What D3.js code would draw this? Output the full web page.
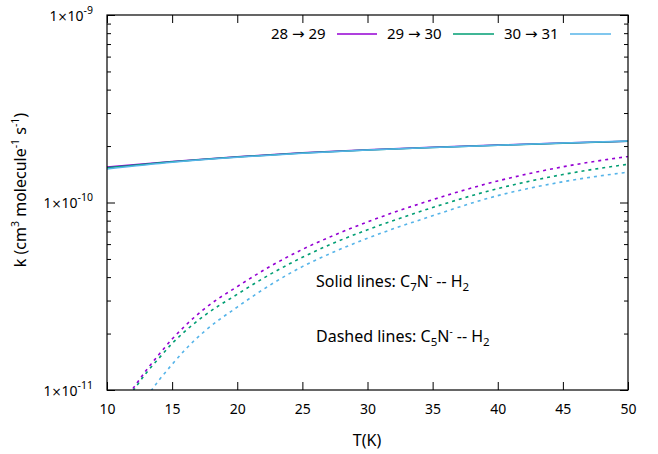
<!DOCTYPE html>
<html><head><meta charset="utf-8">
<script src="https://cdn.jsdelivr.net/npm/d3@7"></script>
<style>body{margin:0;background:#fff}svg{display:block}text{font-family:"Noto Sans",sans-serif;fill:#000}</style>
</head><body><svg id="c" width="658" height="454"></svg>
<script>
// ---- data ----
const xTicks = [10, 15, 20, 25, 30, 35, 40, 45, 50];
const yMajor = [1e-11, 1e-10, 1e-9];
const yExp = ["-11", "-10", "-9"];
const seriesFrom = ["28", "29", "30"];
const seriesTo = ["29", "30", "31"];
const seriesColors = ["#9400d3", "#009e73", "#56b4e9"];

// solid lines: C7N- -- H2
const solidT = [10, 15, 20, 25, 30, 35, 40, 45, 50];
const solid_28_29 = [1.545e-10, 1.655e-10, 1.755e-10, 1.84e-10, 1.91e-10, 1.97e-10, 2.025e-10, 2.075e-10, 2.12e-10];
const solid_29_30 = [1.53e-10, 1.65e-10, 1.75e-10, 1.835e-10, 1.905e-10, 1.965e-10, 2.02e-10, 2.072e-10, 2.12e-10];
const solid_30_31 = [1.51e-10, 1.64e-10, 1.745e-10, 1.83e-10, 1.905e-10, 1.965e-10, 2.02e-10, 2.075e-10, 2.125e-10];

// dashed lines: C5N- -- H2
const dashT = [11, 12, 13, 14, 15, 16, 17.5, 20, 22.5, 25, 27.5, 30, 35, 40, 45, 50];
const dash_28_29 = [0.83e-11, 1.02e-11, 1.27e-11, 1.55e-11, 1.87e-11, 2.2e-11, 2.72e-11, 3.56e-11, 4.55e-11, 5.62e-11, 6.72e-11, 7.88e-11, 10.35e-11, 13.03e-11, 15.5e-11, 17.6e-11];
const dash_29_30 = [0.81e-11, 0.99e-11, 1.23e-11, 1.48e-11, 1.77e-11, 2.06e-11, 2.5e-11, 3.24e-11, 4.13e-11, 5.1e-11, 6.12e-11, 7.15e-11, 9.4e-11, 11.86e-11, 14.1e-11, 16.0e-11];
const dash_30_31 = [0.62e-11, 0.74e-11, 0.91e-11, 1.13e-11, 1.37e-11, 1.64e-11, 2.06e-11, 2.77e-11, 3.62e-11, 4.55e-11, 5.48e-11, 6.45e-11, 8.5e-11, 10.88e-11, 12.9e-11, 14.52e-11];

const solidSeries = [solid_28_29, solid_29_30, solid_30_31];
const dashSeries = [dash_28_29, dash_29_30, dash_30_31];

// ---- layout ----
const L = 107, R = 628, T = 15, B = 390;
const svg = d3.select("#c");
const x = d3.scaleLinear().domain([10, 50]).range([L, R]);
const y = d3.scaleLog().domain([1e-11, 1e-9]).range([B, T]);

svg.append("defs").append("clipPath").attr("id", "clip")
  .append("rect").attr("x", L).attr("y", T).attr("width", R - L).attr("height", B - T);

const yMinor = [];
[1e-11, 1e-10].forEach(d => { for (let k = 2; k <= 9; k++) yMinor.push(d * k); });

function styleAxis(g) {
  g.select(".domain").remove();
  g.selectAll(".tick line").attr("stroke", "#000").attr("stroke-width", 1);
}

svg.append("g").attr("transform", `translate(0,${B})`)
  .call(d3.axisBottom(x).tickValues(xTicks).tickSizeInner(-8).tickSizeOuter(0).tickPadding(14).tickFormat(d3.format("d")))
  .call(styleAxis)
  .call(g => g.selectAll(".tick text").attr("font-size", 14).attr("font-family", "Noto Sans"));
svg.append("g").attr("transform", `translate(0,${T})`)
  .call(d3.axisTop(x).tickValues(xTicks).tickSizeInner(-8).tickSizeOuter(0).tickFormat(""))
  .call(styleAxis);
const leftMaj = svg.append("g").attr("transform", `translate(${L},0)`)
  .call(d3.axisLeft(y).tickValues(yMajor).tickSizeInner(-8).tickSizeOuter(0).tickFormat(""))
  .call(styleAxis);
leftMaj.selectAll(".tick").each(function(d, i) {
  const t = d3.select(this).append("text").attr("x", -14).attr("y", 5)
    .attr("text-anchor", "end").attr("font-size", 14).attr("font-family", "Noto Sans");
  t.append("tspan").text("1");
  t.append("tspan").attr("font-family", "DejaVu Sans").attr("font-size", 12).text("\u00d7");
  t.append("tspan").text("10");
  t.append("tspan").attr("dy", -7).attr("font-size", 10.5).text(yExp[i]);
});
svg.append("g").attr("transform", `translate(${L},0)`)
  .call(d3.axisLeft(y).tickValues(yMinor).tickSizeInner(-4).tickSizeOuter(0).tickFormat(""))
  .call(styleAxis);
svg.append("g").attr("transform", `translate(${R},0)`)
  .call(d3.axisRight(y).tickValues(yMajor).tickSizeInner(-8).tickSizeOuter(0).tickFormat(""))
  .call(styleAxis);
svg.append("g").attr("transform", `translate(${R},0)`)
  .call(d3.axisRight(y).tickValues(yMinor).tickSizeInner(-4).tickSizeOuter(0).tickFormat(""))
  .call(styleAxis);

const plot = svg.append("g").attr("clip-path", "url(#clip)");
const lineGen = (ts) => d3.line().x((d, i) => x(ts[i])).y(d => y(d)).curve(d3.curveMonotoneX);
dashSeries.forEach((s, i) => {
  plot.append("path").datum(s).attr("d", lineGen(dashT)).attr("fill", "none")
    .attr("stroke", seriesColors[i]).attr("stroke-width", 1.6).attr("stroke-dasharray", "3,4");
});
solidSeries.forEach((s, i) => {
  plot.append("path").datum(s).attr("d", lineGen(solidT)).attr("fill", "none")
    .attr("stroke", seriesColors[i]).attr("stroke-width", 1.5);
});

svg.append("rect").attr("x", L).attr("y", T).attr("width", R - L).attr("height", B - T)
  .attr("fill", "none").attr("stroke", "#000").attr("stroke-width", 1.2);

// legend
const legTextStart = [271, 387, 504];
const legLine = [[337, 377], [453, 494], [570, 611]];
seriesFrom.forEach((n, i) => {
  const t = svg.append("text").attr("x", legTextStart[i]).attr("y", 39).attr("font-size", 15);
  t.append("tspan").text(n + " ");
  t.append("tspan").attr("font-family", "DejaVu Sans").attr("font-size", 15).text("\u2192");
  t.append("tspan").text(" " + seriesTo[i]);
  svg.append("line").attr("x1", legLine[i][0]).attr("x2", legLine[i][1]).attr("y1", 34).attr("y2", 34)
    .attr("stroke", seriesColors[i]).attr("stroke-width", 1.5);
});

function chem(yPos, label, sub) {
  const t = svg.append("text").attr("x", 316).attr("y", yPos).attr("font-size", 16);
  t.append("tspan").text(label + "C");
  t.append("tspan").attr("dy", 4).attr("font-size", 11.5).text(sub);
  t.append("tspan").attr("dy", -4).text("N");
  t.append("tspan").attr("dy", -7).attr("font-size", 10).text("-");
  t.append("tspan").attr("dy", 7).text(" -- H");
  t.append("tspan").attr("dy", 4).attr("font-size", 11.5).text("2");
}
chem(287, "Solid lines: ", "7");
chem(342, "Dashed lines: ", "5");

svg.append("text").attr("x", 367).attr("y", 446).attr("text-anchor", "middle").attr("font-size", 16).text("T(K)");
const yt = svg.append("text").attr("transform", "translate(26,190) rotate(-90)").attr("text-anchor", "middle").attr("font-size", 16);
yt.append("tspan").text("k (cm");
yt.append("tspan").attr("dy", -7).attr("font-size", 10.5).text("3");
yt.append("tspan").attr("dy", 7).text(" molecule");
yt.append("tspan").attr("dy", -7).attr("font-size", 10.5).text("-1");
yt.append("tspan").attr("dy", 7).text(" s");
yt.append("tspan").attr("dy", -7).attr("font-size", 10.5).text("-1");
yt.append("tspan").attr("dy", 7).text(")");
</script></body></html>
